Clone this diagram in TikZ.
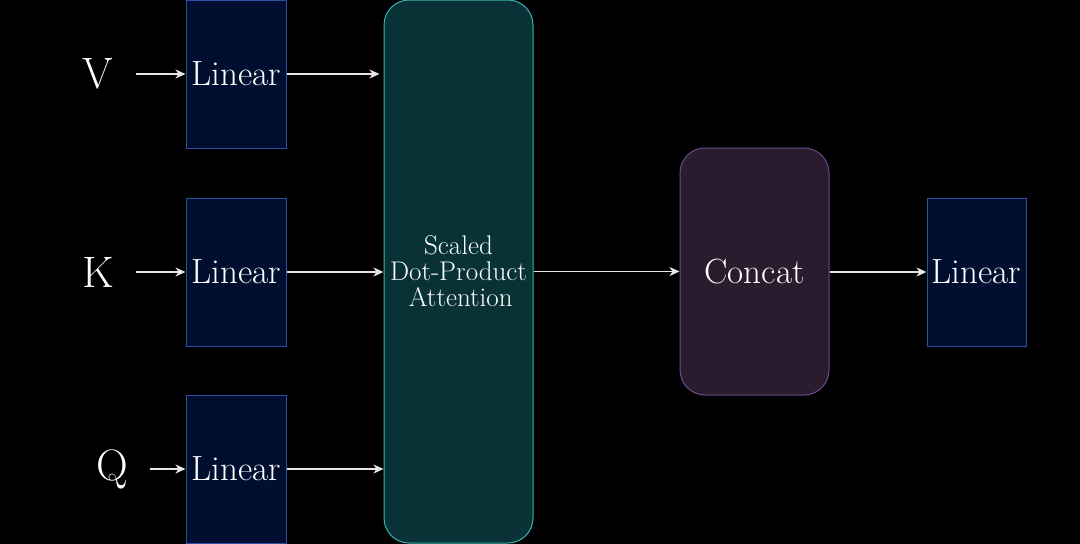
\documentclass[tikz,border=0pt]{standalone}
\usetikzlibrary{arrows.meta}
\definecolor{linfill}{HTML}{000F30}
\definecolor{lindraw}{HTML}{2B4EA0}
\definecolor{attfill}{HTML}{083236}
\definecolor{attdraw}{HTML}{3AB0B0}
\definecolor{catfill}{HTML}{2B1B2E}
\definecolor{catdraw}{HTML}{6B4A8C}
\definecolor{arrcol}{HTML}{E6E6E6}
\begin{document}
\begin{tikzpicture}[x=1pt,y=-1pt,
  linbox/.style={draw=lindraw,fill=linfill,line width=1pt,minimum width=100pt,minimum height=148pt,inner sep=0pt,text=white,font=\fontsize{35}{38}\selectfont},
  attbox/.style={draw=attdraw,fill=attfill,line width=1pt,rounded corners=25pt,minimum width=149pt,minimum height=543pt,inner sep=0pt,text=white,align=center,font=\fontsize{27}{26}\selectfont},
  catbox/.style={draw=catdraw,fill=catfill,line width=1pt,rounded corners=25pt,minimum width=149pt,minimum height=247pt,inner sep=0pt,text=white,font=\fontsize{35}{38}\selectfont},
  inlabel/.style={text=white,inner sep=0pt,font=\fontsize{44}{46}\selectfont},
  arr/.style={draw=arrcol,line width=1.1pt,-{Stealth[length=10pt,width=9pt,inset=3pt]}}]
\fill[black] (0,0) rectangle (1080,544);
\useasboundingbox (0,0) rectangle (1080,544);
\node[attbox] (att) at (458.5,271.5) {Scaled\\Dot-Product\\\,Attention};
\node[catbox] (cat) at (754.5,271.5) {Concat};
\node[linbox] (lv) at (236,74) {Linear};
\node[linbox] (lk) at (236,272) {Linear};
\node[linbox] (lq) at (236,469) {Linear};
\node[linbox,minimum width=99pt] (lo) at (976.5,272) {Linear};
\node[inlabel] (V) at (98,74) {V};
\node[inlabel] (K) at (98,272) {K};
\node[inlabel] (Q) at (112,469) {Q};
\draw[arr,shorten <=23pt] (V) -- (lv);
\draw[arr,shorten <=22pt] (K) -- (lk);
\draw[arr,shorten <=22pt] (Q) -- (lq);
\draw[arr,shorten >=4pt] (lv.east) -- (lv.east -| att.west);
\draw[arr] (lk.east) -- (lk.east -| att.west);
\draw[arr] (lq.east) -- (lq.east -| att.west);
\draw[arr] (att.east |- cat.west) -- (cat.west);
\draw[arr] (cat.east |- lo.west) -- (lo.west);
\end{tikzpicture}
\end{document}
